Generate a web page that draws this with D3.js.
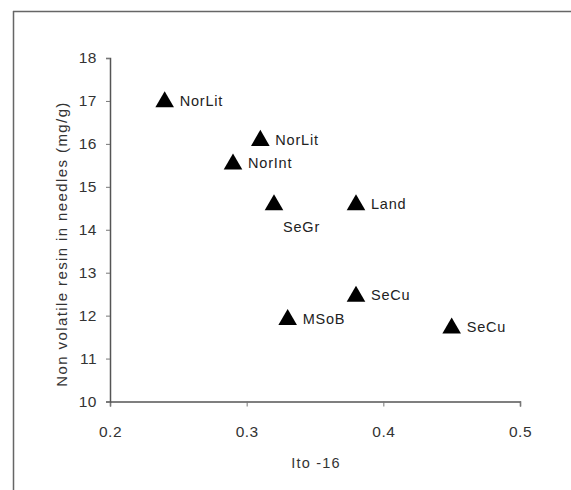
<!DOCTYPE html>
<html><head><meta charset="utf-8">
<script src="https://cdn.jsdelivr.net/npm/d3@7"></script>
<style>html,body{margin:0;padding:0;background:#fff;}svg{display:block;}</style>
</head><body>
<svg id="c" width="571" height="490"></svg>
<script>
const labels = ["NorLit","NorLit","NorInt","SeGr","Land","SeCu","MSoB","SeCu"];
const xValues = [0.24, 0.31, 0.29, 0.32, 0.38, 0.38, 0.33, 0.45];
const yValues = [17.0, 16.1, 15.55, 14.6, 14.6, 12.47, 11.93, 11.73];
const labelPos = ["right","right","right","below","right","right","right","right"];
const xTicks = [0.2, 0.3, 0.4, 0.5];
const yTicks = [10, 11, 12, 13, 14, 15, 16, 17, 18];
const xTitle = "Ito -16";
const yTitle = "Non volatile resin in needles (mg/g)";

const svg = d3.select("#c");
const font = "Liberation Sans, Arial, sans-serif";

// frame
svg.append("line").attr("x1",13).attr("x2",571).attr("y1",11.5).attr("y2",11.5).attr("stroke","#666").attr("stroke-width",1.5);
svg.append("line").attr("x1",13.5).attr("x2",13.5).attr("y1",11).attr("y2",490).attr("stroke","#666").attr("stroke-width",1.5);

const x = d3.scaleLinear().domain([0.2,0.5]).range([110,520]);
const y = d3.scaleLinear().domain([10,18]).range([401.5,58]);

const xAxis = svg.append("g").attr("transform","translate(0,401.5)")
  .call(d3.axisBottom(x).tickValues(xTicks).tickFormat(d3.format(".1f")).tickSize(5).tickPadding(19));
const yAxis = svg.append("g").attr("transform","translate(110,0)")
  .call(d3.axisLeft(y).tickValues(yTicks).tickSize(4).tickPadding(9));
[xAxis,yAxis].forEach(a=>{
  a.select(".domain").attr("stroke","#555").attr("stroke-width",1.5);
  a.selectAll(".tick line").attr("stroke","#777");
  a.selectAll("text").attr("font-family",font).attr("font-size",15.5).attr("fill","#333").attr("letter-spacing",0.5);
});

const tri = d3.symbol().type(d3.symbolTriangle).size(150);
const pts = svg.append("g");
labels.forEach((lab,i)=>{
  const cx = x(xValues[i]), cy = y(yValues[i]);
  pts.append("path").attr("d",tri).attr("transform",`translate(${cx},${cy+1})`).attr("fill","#000");
  const t = pts.append("text").text(lab).attr("font-family",font).attr("font-size",14.5)
    .attr("fill","#222").attr("letter-spacing",0.8);
  if (labelPos[i]==="below") t.attr("x",cx+9).attr("y",cy+28);
  else t.attr("x",cx+15).attr("y",cy+5);
});

svg.append("text").text(xTitle).attr("x",316).attr("y",468).attr("text-anchor","middle")
  .attr("font-family",font).attr("font-size",14.5).attr("fill","#333").attr("letter-spacing",1.2);
svg.append("text").text(yTitle).attr("transform","translate(67,244) rotate(-90)").attr("text-anchor","middle")
  .attr("font-family",font).attr("font-size",15).attr("fill","#333").attr("letter-spacing",1.4);
</script>
</body></html>
